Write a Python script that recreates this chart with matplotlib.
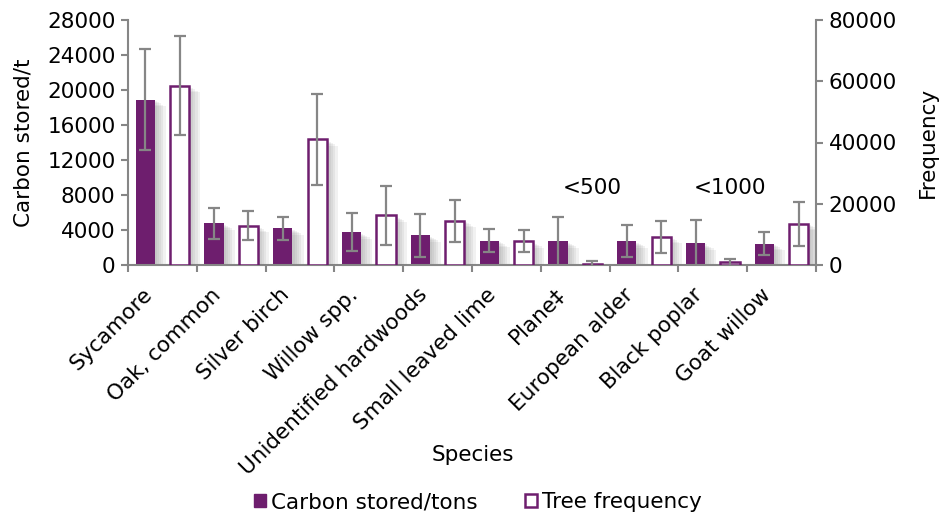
import matplotlib
matplotlib.use("Agg")
import matplotlib.pyplot as plt
import matplotlib.patheffects as pe
from matplotlib.patches import Rectangle
import numpy as np

species = ["Sycamore", "Oak, common", "Silver birch", "Willow spp.",
           "Unidentified hardwoods", "Small leaved lime", "Plane\u2021",
           "European alder", "Black poplar", "Goat willow"]
carbon = [18900, 4760, 4190, 3730, 3390, 2780, 2710, 2710, 2510, 2440]
carbon_err = [5800, 1810, 1330, 2170, 2420, 1280, 2810, 1810, 2630, 1350]
freq = [58550, 12840, 41040, 16220, 14470, 7730, 450, 9250, 900, 13500]
freq_err = [16200, 4740, 14860, 9640, 6800, 3540, 850, 5170, 1100, 7190]
notes = {6: "<500", 8: "<1000"}

purple = "#6E1E6E"
grey = "#868686"
fs = 15.5
plt.rcParams['font.family'] = ['DejaVu Sans']

fig = plt.figure(figsize=(9.4, 5.15), dpi=100)
ax = fig.add_axes([128/940, 1-265/515, (816-128)/940, 245/515])
ax2 = ax.twinx()

x = np.arange(len(species))
w = 0.28
# soft drop shadow, a few stacked offsets
shadow = [pe.SimplePatchShadow(offset=(k, -k*0.6), shadow_rgbFace="#7a7a7a", alpha=0.10)
          for k in (8, 6, 4.5, 3, 1.5)] + [pe.Normal()]

b1 = ax.bar(x - 0.25, carbon, w, color=purple, zorder=2)
for b in b1:
    b.set_path_effects(shadow)
ax.errorbar(x - 0.25, carbon, yerr=carbon_err, fmt='none', ecolor=grey,
            elinewidth=1.6, capsize=4.5, capthick=1.6, zorder=3)

b2 = ax2.bar(x + 0.25, freq, w, color='white', edgecolor=purple, linewidth=1.8, zorder=2)
for b in b2:
    b.set_path_effects(shadow)
ax2.errorbar(x + 0.25, freq, yerr=freq_err, fmt='none', ecolor=grey,
             elinewidth=1.6, capsize=4.5, capthick=1.6, zorder=3)

for i, t in notes.items():
    ax2.text(x[i] + 0.25, 25240, t, ha='center', va='center', fontsize=fs)

ax.set_xlim(-0.5, len(species) - 0.5)
ax.set_ylim(0, 28000)
ax2.set_ylim(0, 80000)
ax.set_yticks(np.arange(0, 28001, 4000))
ax2.set_yticks(np.arange(0, 80001, 20000))

# group boundaries get tick marks, labels sit on hidden minor ticks
ax.set_xticks(np.arange(-0.5, len(species), 1.0))
ax.set_xticklabels([])
ax.set_xticks(x - 0.3, minor=True)
ax.set_xticklabels(species, minor=True, rotation=45, ha='right',
                   rotation_mode='anchor', fontsize=fs)
ax.tick_params(axis='x', which='minor', length=0, pad=14)
ax.tick_params(axis='x', which='major', length=5, color=grey, width=1.5)

for a in (ax, ax2):
    a.spines['top'].set_visible(False)
    for s in ('left', 'right', 'bottom'):
        a.spines[s].set_color(grey)
        a.spines[s].set_linewidth(1.5)
ax.spines['right'].set_visible(False)
ax2.spines['left'].set_visible(False)
ax2.spines['bottom'].set_visible(False)

ax.tick_params(axis='y', length=5, color=grey, width=1.5, labelsize=fs, pad=4)
ax2.tick_params(axis='y', length=5, color=grey, width=1.5, labelsize=fs, pad=4)

ax.set_ylabel("Carbon stored/t", fontsize=fs, labelpad=10)
ax2.set_ylabel("Frequency", fontsize=fs, labelpad=15)
fig.text(473/940, 1-455/515, "Species", ha='center', va='center', fontsize=fs)

handles = [Rectangle((0, 0), 1, 1, facecolor=purple, edgecolor=purple),
           Rectangle((0, 0), 1, 1, facecolor='white', edgecolor=purple, linewidth=1.8)]
fig.legend(handles, ["Carbon stored/tons", "Tree frequency"], loc='center',
           bbox_to_anchor=(478/940, 1-502/515), ncol=2, frameon=False, fontsize=fs,
           handlelength=0.55, handleheight=0.55, handletextpad=0.25, columnspacing=2.2)

fig.savefig("out.png", dpi=100)
